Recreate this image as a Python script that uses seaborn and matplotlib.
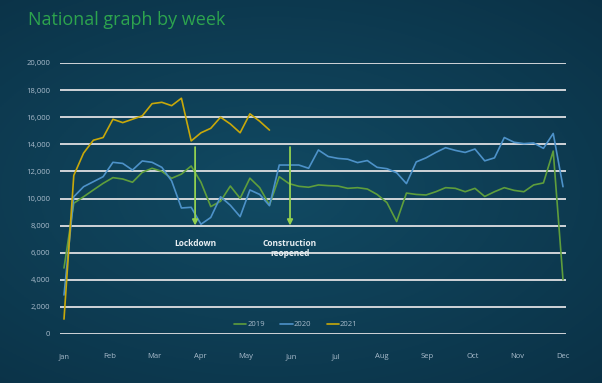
import numpy as np
import pandas as pd
import matplotlib
matplotlib.use("Agg")
import matplotlib.pyplot as plt
import seaborn as sns

# weekly values
weeks = list(range(1, 53))
months = ["Jan", "Feb", "Mar", "Apr", "May", "Jun", "Jul", "Aug", "Sep", "Oct", "Nov", "Dec"]

y2019 = [4870, 9650, 10130, 10630, 11120, 11540, 11440, 11200, 11930, 12230,
         12000, 11490, 11800, 12400, 11200, 9400, 9800, 10920, 10010, 11500,
         10800, 9520, 11610, 11100, 10900, 10830, 11000, 10950, 10920, 10750,
         10800, 10700, 10300, 9700, 8300, 10400, 10300, 10260, 10500, 10800,
         10750, 10500, 10750, 10150, 10500, 10800, 10600, 10500, 11000, 11150,
         13500, 4000]
y2020 = [2880, 10130, 10870, 11240, 11610, 12670, 12590, 12100, 12770, 12670,
         12300, 11300, 9300, 9350, 8100, 8600, 10130, 9500, 8660, 10630,
         10300, 9470, 12470, 12470, 12470, 12230, 13580, 13100, 12960, 12900,
         12650, 12800, 12300, 12200, 11900, 11100, 12700, 13000, 13400, 13750,
         13550, 13400, 13650, 12780, 13000, 14500, 14150, 14050, 14100, 13700,
         14800, 10870]
y2021 = [1100, 11700, 13350, 14300, 14500, 15850, 15600, 15850, 16100, 17000,
         17100, 16850, 17400, 14250, 14850, 15180, 16000, 15500, 14850, 16250,
         15700, 15050]

series_names = ["2019", "2020", "2021"]
colors = ["#5f9e3c", "#4d92c9", "#c8a80a"]

df = pd.concat([
    pd.DataFrame({"week": weeks, "value": y2019, "year": "2019"}),
    pd.DataFrame({"week": weeks, "value": y2020, "year": "2020"}),
    pd.DataFrame({"week": weeks[:len(y2021)], "value": y2021, "year": "2021"}),
])

sns.set_style("dark")
plt.rcParams["font.family"] = ["Open Sans", "DejaVu Sans"]

fig = plt.figure(figsize=(6.02, 3.83), dpi=100)

# background gradient
bg = fig.add_axes([0, 0, 1, 1], zorder=-10)
gx, gy = np.meshgrid(np.linspace(0, 1, 300), np.linspace(0, 1, 200))
r = np.sqrt(((gx - 0.45) / 0.9) ** 2 + ((gy - 0.5) / 0.8) ** 2)
r = np.clip(r, 0, 1)
c_in = np.array([0x11, 0x4a, 0x63]) / 255
c_out = np.array([0x0a, 0x2e, 0x42]) / 255
img = c_in[None, None, :] * (1 - r[..., None]) + c_out[None, None, :] * r[..., None]
bg.imshow(img, aspect="auto", extent=[0, 1, 0, 1])
bg.set_axis_off()

ax = fig.add_axes([60 / 602, 49 / 383, 506 / 602, 271 / 383])
ax.patch.set_alpha(0)

sns.lineplot(data=df, x="week", y="value", hue="year", palette=colors,
             linewidth=1.2, ax=ax, legend=True)

px_week = 499 / 51
ax.set_xlim(1 - 4 / px_week, 52 + 3 / px_week)
ax.set_ylim(0, 20000)

ax.set_yticks(range(0, 20001, 2000))
ax.set_yticklabels([f"{v:,}" for v in range(0, 20001, 2000)])
ax.set_xticks([1 + i * 51 / 11 for i in range(12)])
ax.set_xticklabels(months)

ax.grid(axis="y", color="#d0d4d8", linewidth=1.4)
ax.grid(axis="x", visible=False)
ax.set_axisbelow(True)
for s in ax.spines.values():
    s.set_visible(False)
ax.tick_params(axis="both", length=0, labelsize=5.5, colors="#a9bccc")
ax.tick_params(axis="y", pad=7)
ax.tick_params(axis="x", pad=14)
ax.set_xlabel("")
ax.set_ylabel("")

leg = ax.legend(loc="lower center", bbox_to_anchor=(0.466, -0.005), ncol=3,
                frameon=False, fontsize=5.5, handlelength=1.6, handletextpad=0.15,
                columnspacing=2.0)
for t in leg.get_texts():
    t.set_color("#a9bccc")

# annotations
arrow = dict(arrowstyle="-|>", color="#92d050", lw=1.3, mutation_scale=8)
ax.annotate("", xy=(14.4, 7800), xytext=(14.4, 14000), arrowprops=arrow)
ax.annotate("", xy=(24.1, 7800), xytext=(24.1, 14000), arrowprops=arrow)
ax.text(14.4, 7000, "Lockdown", ha="center", va="top", color="#e8eef2",
        fontsize=6, fontweight="bold")
ax.text(24.1, 7000, "Construction\nreopened", ha="center", va="top",
        color="#e8eef2", fontsize=6, fontweight="bold", linespacing=1.1)

fig.text(28 / 602, 1 - 20 / 383, "National graph by week", color="#2da44e",
         fontsize=13, va="center", ha="left")

fig.savefig("out.png", dpi=100)
